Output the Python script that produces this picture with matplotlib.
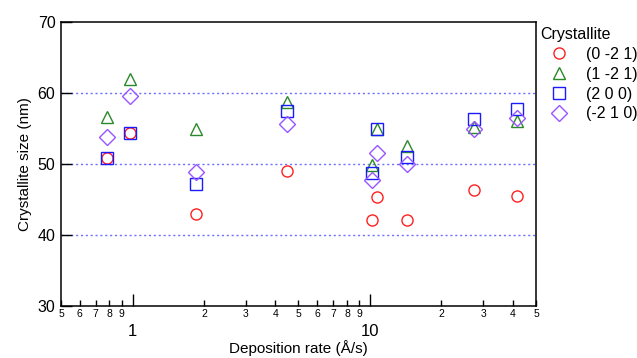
import matplotlib
matplotlib.use('Agg')
from matplotlib import pyplot as plt
from matplotlib.ticker import FixedLocator, FixedFormatter

plt.rcParams['font.family'] = ['Liberation Sans', 'DejaVu Sans']

# deposition rate (A/s)
rate = [0.78, 0.98, 1.85, 4.47, 10.2, 10.7, 14.3, 27.4, 41.6]
# crystallite sizes (nm)
size_021 = [50.8, 54.3, 42.9, 49.0, 42.1, 45.3, 42.1, 46.3, 45.5]
size_121 = [56.6, 62.0, 54.9, 58.7, 49.8, 55.0, 52.6, 55.2, 56.1]
size_200 = [50.9, 54.3, 47.2, 57.4, 48.7, 55.0, 51.0, 56.4, 57.8]
size_210 = [53.8, 59.6, 48.9, 55.7, 47.8, 51.6, 50.0, 54.9, 56.5]
labels = ['(0 -2 1)', '(1 -2 1)', '(2 0 0)', '(-2 1 0)']

major_x = [1, 10]
minor_x = [0.5, 0.6, 0.7, 0.8, 0.9, 2, 3, 4, 5, 6, 7, 8, 9, 20, 30, 40, 50]
minor_lbl = ['5', '6', '7', '8', '9', '2', '3', '4', '5', '6', '7', '8', '9', '2', '3', '4', '5']
y_ticks = [30, 40, 50, 60, 70]

fig = plt.figure(figsize=(6.37, 3.58), dpi=100)
ax = fig.add_axes([0.0958, 0.1453, 0.7456, 0.7932])

ax.plot(rate, size_021, linestyle='none', marker='o', ms=8, mfc='none', mec='#ff2020', mew=1.0, label=labels[0])
ax.plot(rate, size_121, linestyle='none', marker='^', ms=9, mfc='none', mec='#2a8a2a', mew=1.0, label=labels[1])
ax.plot(rate, size_200, linestyle='none', marker='s', ms=8, mfc='none', mec='#1a1aff', mew=1.0, label=labels[2])
ax.plot(rate, size_210, linestyle='none', marker='D', ms=8, mfc='none', mec='#9955ff', mew=1.0, label=labels[3])

ax.set_xscale('log')
ax.set_xlim(0.5, 50)
ax.set_ylim(30, 70)

ax.xaxis.set_major_locator(FixedLocator(major_x))
ax.xaxis.set_major_formatter(FixedFormatter(['1', '10']))
ax.xaxis.set_minor_locator(FixedLocator(minor_x))
ax.xaxis.set_minor_formatter(FixedFormatter(minor_lbl))
ax.tick_params(axis='x', which='major', direction='in', length=8.5, width=1, pad=13, labelsize=12)
ax.tick_params(axis='x', which='minor', direction='in', length=4.5, width=1, pad=2.5, labelsize=7.5)

ax.set_yticks(y_ticks)
ax.tick_params(axis='y', which='major', direction='in', length=8, width=1, pad=4, labelsize=11.5)

for g in [40, 50, 60]:
    ax.axhline(g, color='#6f6fff', linestyle=(0, (1.5, 2)), linewidth=1, zorder=0)

for s in ax.spines.values():
    s.set_linewidth(1.1)

ax.set_xlabel('Deposition rate (Å/s)', fontsize=11, labelpad=1)
ax.set_ylabel('Crystallite size (nm)', fontsize=11, labelpad=4)

leg = fig.legend(loc='upper left', bbox_to_anchor=(0.830, 0.955), frameon=False,
                 title='Crystallite', fontsize=11.5, title_fontsize=11.5,
                 handletextpad=0.5, labelspacing=0.3, borderpad=0.2, handlelength=2.4)
leg._legend_box.align = 'left'

fig.savefig('out.png', dpi=100)
